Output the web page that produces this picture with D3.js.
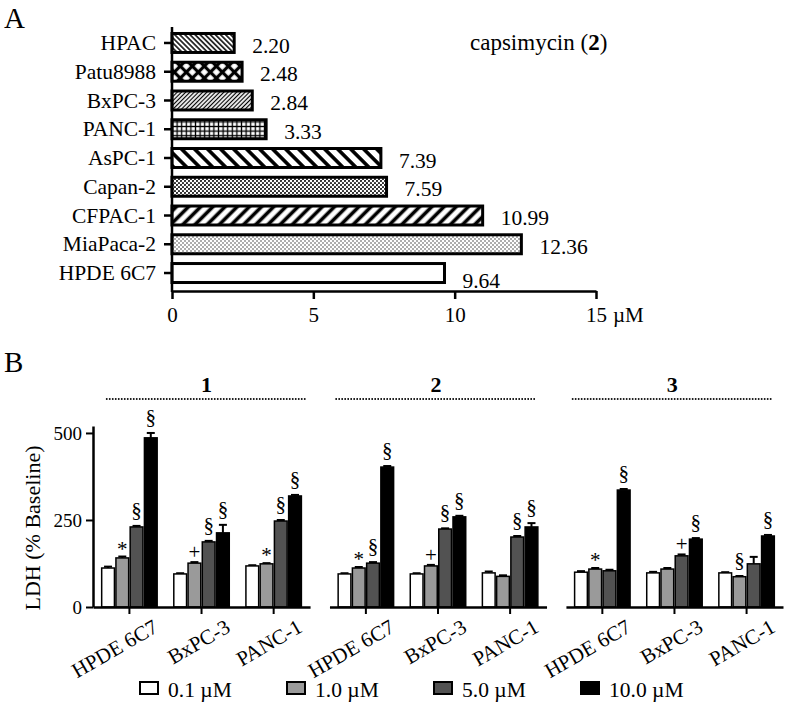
<!DOCTYPE html>
<html><head><meta charset="utf-8">
<script src="https://cdn.jsdelivr.net/npm/d3@7"></script>
<style>
body{margin:0;background:#fff}
svg text{font-family:"Liberation Serif","Times New Roman",serif;fill:#000}
</style>
</head><body>
<svg id="c" width="787" height="703"></svg>
<script>
// ---------- Panel A data ----------
const cellLinesA = ["HPAC","Patu8988","BxPC-3","PANC-1","AsPC-1","Capan-2","CFPAC-1","MiaPaca-2","HPDE 6C7"];
const ic50A = [2.20, 2.48, 2.84, 3.33, 7.39, 7.59, 10.99, 12.36, 9.64];
const ic50Labels = ["2.20","2.48","2.84","3.33","7.39","7.59","10.99","12.36","9.64"];
const ticksA = [0, 5, 10, 15];

// ---------- Panel B data ----------
const compoundsB = ["1","2","3"];
const cellLinesB = ["HPDE 6C7","BxPC-3","PANC-1"];
const concentrations = ["0.1 µM","1.0 µM","5.0 µM","10.0 µM"];
const ticksB = [0, 250, 500];
// LDH (% baseline), [cell line][concentration]
const ldhCompound1 = [[112,141,230,486],[95,126,187,213],[118,124,247,319]];
const ldhCompound2 = [[95,112,126,402],[95,118,224,259],[98,88,201,230]];
const ldhCompound3 = [[100,109,104,336],[98,109,147,195],[98,87,124,204]];
const errCompound1 = [[4,4,3,14],[2,3,3,23],[2,2,3,3]];
const errCompound2 = [[2,3,3,3],[2,3,2,3],[4,3,3,11]];
const errCompound3 = [[3,3,3,3],[3,3,4,3],[2,2,20,3]];
const sigCompound1 = [["","*","§","§"],["","+","§","§"],["","*","§","§"]];
const sigCompound2 = [["","*","§","§"],["","+","§","§"],["","","§","§"]];
const sigCompound3 = [["","*","","§"],["","","+","§"],["","§","","§"]];

const svg = d3.select("#c");
const defs = svg.append("defs");

// ---------- patterns ----------
function stripes(id, w, lw, angle){
  const p = defs.append("pattern").attr("id",id).attr("patternUnits","userSpaceOnUse")
    .attr("width",w).attr("height",w).attr("patternTransform",`rotate(${angle})`);
  p.append("rect").attr("width",w).attr("height",w).attr("fill","#fff");
  p.append("rect").attr("x",(w-lw)/2).attr("y",0).attr("width",lw).attr("height",w).attr("fill","#000");
}
function cross(id, w, lw, angle){
  const p = defs.append("pattern").attr("id",id).attr("patternUnits","userSpaceOnUse")
    .attr("width",w).attr("height",w).attr("patternTransform",`rotate(${angle})`);
  p.append("rect").attr("width",w).attr("height",w).attr("fill","#fff");
  p.append("rect").attr("x",(w-lw)/2).attr("y",0).attr("width",lw).attr("height",w).attr("fill","#000");
  p.append("rect").attr("x",0).attr("y",(w-lw)/2).attr("width",w).attr("height",lw).attr("fill","#000");
}
function dots(id, w, h, r, fill){
  const p = defs.append("pattern").attr("id",id).attr("patternUnits","userSpaceOnUse")
    .attr("width",w).attr("height",h);
  p.append("rect").attr("width",w).attr("height",h).attr("fill","#fff");
  p.append("circle").attr("cx",w*0.25).attr("cy",h*0.25).attr("r",r).attr("fill",fill);
  p.append("circle").attr("cx",w*0.75).attr("cy",h*0.75).attr("r",r).attr("fill",fill);
}
stripes("pHPAC", 3.6, 1.5, -45);
cross("pPatu", 8.5, 3.2, 45);
stripes("pBxPC", 3.0, 1.2, 45);
cross("pPANC", 4.6, 1.3, 0);
stripes("pAsPC", 9.2, 3.6, -45);
dots("pCapan", 4, 4, 1.1, "#222");
stripes("pCFPAC", 8.6, 3.6, 45);
dots("pMia", 4, 4, 0.75, "#333");
const fillsA = ["url(#pHPAC)","url(#pPatu)","url(#pBxPC)","url(#pPANC)","url(#pAsPC)","url(#pCapan)","url(#pCFPAC)","url(#pMia)","#fff"];

// ---------- Panel A ----------
svg.append("text").attr("x",4).attr("y",28).attr("font-size",29).text("A");

const xA = d3.scaleLinear().domain([0,15]).range([172,596]);
const yA = d3.scaleBand().domain(cellLinesA).range([28.6,287.4]).paddingInner(0.34).paddingOuter(0.17);

const gA = svg.append("g");
gA.selectAll("rect.bar").data(cellLinesA).join("rect").attr("class","bar")
  .attr("x", xA(0))
  .attr("y", d => yA(d))
  .attr("width", (d,i) => xA(ic50A[i]) - xA(0))
  .attr("height", yA.bandwidth())
  .attr("fill", (d,i) => fillsA[i])
  .attr("stroke","#000").attr("stroke-width",3);

gA.selectAll("text.val").data(cellLinesA).join("text").attr("class","val")
  .attr("x", (d,i) => xA(ic50A[i]) + 18)
  .attr("y", (d,i) => yA(d) + yA.bandwidth()/2 + (i === cellLinesA.length-1 ? 7 : 2))
  .attr("dy","0.35em").attr("font-size",21.5)
  .text((d,i) => ic50Labels[i]);

// y axis (categories)
const axA_y = gA.append("g").attr("transform",`translate(${xA(0)},0)`)
  .call(d3.axisLeft(yA).tickSize(8).tickSizeOuter(0).tickPadding(8));
axA_y.select(".domain").remove();
axA_y.selectAll(".tick line").attr("stroke","#000").attr("stroke-width",2.5);
axA_y.selectAll(".tick text").attr("font-size",21.5).attr("font-family","Liberation Serif").attr("dy","0.33em");
gA.append("line").attr("x1",xA(0)).attr("x2",xA(0)).attr("y1",27).attr("y2",292)
  .attr("stroke","#000").attr("stroke-width",2.5);

// x axis
const axA_x = gA.append("g").attr("transform","translate(0,291)")
  .call(d3.axisBottom(xA).tickValues(ticksA).tickSize(8).tickSizeOuter(0).tickFormat(d3.format("d")));
axA_x.select(".domain").attr("stroke","#000").attr("stroke-width",2.5);
axA_x.selectAll(".tick line").attr("stroke","#000").attr("stroke-width",2.5);
axA_x.selectAll(".tick text").attr("font-size",21).attr("font-family","Liberation Serif").attr("y",31).attr("dy",0);
gA.append("text").attr("x",xA(15)+17).attr("y",322).attr("font-size",21).text("µM");

const tCaps = gA.append("text").attr("x",470).attr("y",50).attr("font-size",23);
tCaps.append("tspan").text("capsimycin (");
tCaps.append("tspan").attr("font-weight","bold").text("2");
tCaps.append("tspan").text(")");

// ---------- Panel B ----------
svg.append("text").attr("x",4).attr("y",372).attr("font-size",29).text("B");

const ldhB = [ldhCompound1, ldhCompound2, ldhCompound3];
const errB = [errCompound1, errCompound2, errCompound3];
const sigB = [sigCompound1, sigCompound2, sigCompound3];
const colorsB = ["#ffffff","#9a9a9a","#525252","#000000"];

const yB = d3.scaleLinear().domain([0,520]).range([607,426]);
const panelX = d3.scaleBand().domain(compoundsB).range([93,783]).paddingInner(0.082);
const groupX = d3.scaleBand().domain(cellLinesB).range([0,panelX.bandwidth()]).paddingInner(0.21).paddingOuter(0.11);
const barX = d3.scaleBand().domain(concentrations).range([0,groupX.bandwidth()]);

const gB = svg.append("g");
const sigOffset = {"§":9, "*":1, "+":3};

compoundsB.forEach((comp, pi) => {
  const p0 = panelX(comp);
  const gp = gB.append("g").attr("transform",`translate(${p0},0)`);
  cellLinesB.forEach((cell, ci) => {
    const gg = gp.append("g").attr("transform",`translate(${groupX(cell)},0)`);
    const rows = concentrations.map((c,k) => ({c, v: ldhB[pi][ci][k], e: errB[pi][ci][k], s: sigB[pi][ci][k]}));
    gg.selectAll("g.err").data(rows).join("g").attr("class","err").each(function(d){
      const cx = barX(d.c) + barX.bandwidth()/2;
      const g = d3.select(this);
      g.append("line").attr("x1",cx).attr("x2",cx).attr("y1",yB(d.v)).attr("y2",yB(d.v+d.e))
        .attr("stroke","#000").attr("stroke-width",2);
      g.append("line").attr("x1",cx-4).attr("x2",cx+4).attr("y1",yB(d.v+d.e)).attr("y2",yB(d.v+d.e))
        .attr("stroke","#000").attr("stroke-width",2);
    });
    gg.selectAll("rect").data(rows).join("rect")
      .attr("x", d => barX(d.c) + 0.75)
      .attr("y", d => yB(d.v))
      .attr("width", barX.bandwidth() - 1.5)
      .attr("height", d => yB(0) - yB(d.v))
      .attr("fill", (d,k) => colorsB[k])
      .attr("stroke","#000").attr("stroke-width",1.5);
    gg.selectAll("text.sig").data(rows.filter(d => d.s)).join("text").attr("class","sig")
      .attr("x", d => barX(d.c) + barX.bandwidth()/2)
      .attr("y", d => yB(d.v + d.e) - sigOffset[d.s])
      .attr("text-anchor","middle").attr("font-size",21)
      .attr("font-family", d => d.s === "§" ? "DejaVu Sans" : "Liberation Serif")
      .text(d => d.s);
  });
  const xs = d3.scaleBand().domain(cellLinesB).range(groupX.range()).paddingInner(0.21).paddingOuter(0.11);
  const ax = gp.append("g").attr("transform",`translate(0,${yB(0)})`)
    .call(d3.axisBottom(xs).tickSize(7).tickSizeOuter(0));
  ax.select(".domain").attr("stroke","#000").attr("stroke-width",2.5);
  ax.selectAll(".tick line").attr("stroke","#000").attr("stroke-width",2);
  ax.selectAll(".tick text").attr("font-size",21).attr("font-family","Liberation Serif")
    .attr("x",0).attr("y",0).attr("dy",0)
    .attr("transform","translate(30,24) rotate(-30)").style("text-anchor","end");
  const dx0 = groupX(cellLinesB[0]) + (pi === 0 ? 5 : -2), dx1 = dx0 + 201;
  gp.append("line").attr("x1",dx0).attr("x2",dx1).attr("y1",399).attr("y2",399)
    .attr("stroke","#222").attr("stroke-width",2.2).attr("stroke-dasharray","1.6,1.4");
  gp.append("text").attr("x",(dx0+dx1)/2).attr("y",392).attr("text-anchor","middle")
    .attr("font-size",22).attr("font-weight","bold").text(comp);
});

// y axis
const axB = gB.append("g").attr("transform",`translate(93,0)`)
  .call(d3.axisLeft(yB).tickValues(ticksB).tickSize(7).tickSizeOuter(0).tickPadding(4));
axB.select(".domain").attr("stroke","#000").attr("stroke-width",2.5);
axB.selectAll(".tick line").attr("stroke","#000").attr("stroke-width",2);
axB.selectAll(".tick text").attr("font-size",19).attr("font-family","Liberation Serif");
gB.append("text").attr("transform","translate(40,528) rotate(-90)").attr("text-anchor","middle")
  .attr("font-size",22).text("LDH (% Baseline)");

// legend
const legX = d3.scaleBand().domain(concentrations).range([140, 140 + 4*147]);
const leg = gB.selectAll("g.leg").data(concentrations).join("g").attr("class","leg")
  .attr("transform", d => `translate(${legX(d)},682)`);
leg.append("rect").attr("width",18).attr("height",12).attr("fill",(d,i)=>colorsB[i])
  .attr("stroke","#000").attr("stroke-width",2);
leg.append("text").attr("x",28).attr("y",14.5).attr("font-size",21.5).text(d => d);
</script>
</body></html>
